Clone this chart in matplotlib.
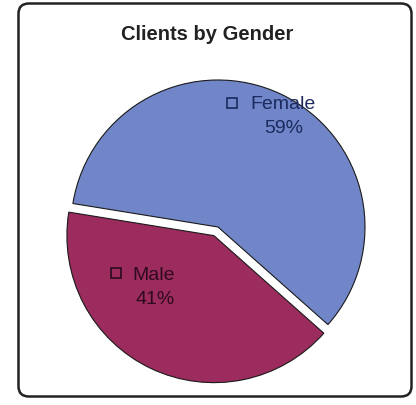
import matplotlib.pyplot as plt
from matplotlib.patches import FancyBboxPatch

# data
labels = ["Female", "Male"]
shares = [59, 41]
colors = ["#7086C8", "#9C2B5E"]
text_colors = ["#1C2A5E", "#2E0A1E"]
title = "Clients by Gender"

W, H = 416, 406
fig = plt.figure(figsize=(W / 100, H / 100), dpi=100)
plt.rcParams['font.family'] = ['Liberation Sans', 'DejaVu Sans']

# rounded frame around the chart
frame = FancyBboxPatch((18.5 / W, 8.5 / H), 393 / W, 393 / H,
                       boxstyle="round,pad=0,rounding_size=0.025",
                       transform=fig.transFigure, fill=False,
                       edgecolor="#222222", linewidth=1.8)
fig.patches.append(frame)

fig.text(207 / W, 1 - 35 / H, title, ha="center", va="center",
         fontsize=14.5, fontweight="bold", color="#222222")

# pie axes: centre at (218, 228) px, radius 147 px
r = 147
cx, cy = 218, 228
lim = 1.15
ax = fig.add_axes([(cx - r * lim) / W, 1 - (cy + r * lim) / H,
                   2 * r * lim / W, 2 * r * lim / H])
ax.axis("off")

wedges, _ = ax.pie(shares, colors=colors, startangle=-41.6,
                   explode=[0, 0.065], radius=1,
                   wedgeprops=dict(edgecolor="#1a1a1a", linewidth=0.8))
ax.set_xlim(-lim, lim)
ax.set_ylim(-lim, lim)

# label positions (axes data units relative to the pie centre)
label_pos = [(0.44, 0.84), (-0.435, -0.32)]
for (x, y), lab, s, tc in zip(label_pos, labels, shares, text_colors):
    ax.text(x, y, lab, ha="center", va="center", fontsize=14, color=tc)
    ax.text(x + 0.005, y - 0.165, f"{s}%", ha="center", va="center",
            fontsize=14, color=tc)
    off = len(lab) * 0.043 + 0.087
    ax.plot(x - off, y + 0.005, marker="s", ms=6.5, mfc="none",
            mec=tc, mew=1.2)

fig.savefig("out.png", dpi=100)
